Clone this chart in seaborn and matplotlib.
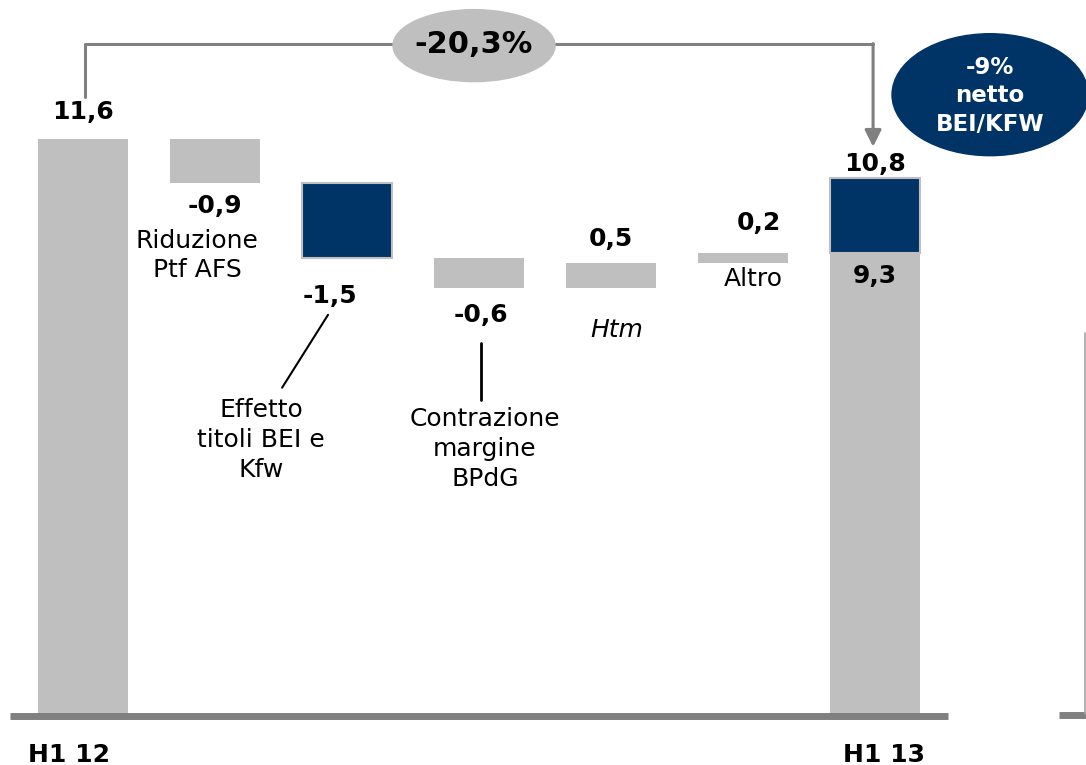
import pandas as pd
import matplotlib.pyplot as plt
import seaborn as sns
from matplotlib.patches import Ellipse

# Data
steps = ["H1 12", "Riduzione Ptf AFS", "Effetto titoli BEI e Kfw",
         "Contrazione margine BPdG", "Htm", "Altro", "H1 13"]
deltas = [11.6, -0.9, -1.5, -0.6, 0.5, 0.2]
end_net = 9.3      # H1 13 netto BEI/KFW
end_bei = 1.5      # quota BEI/KFW in H1 13
highlight = ["Effetto titoli BEI e Kfw"]
value_labels = ["11,6", "-0,9", "-1,5", "-0,6", "0,5", "0,2", "10,8"]

GRAY = "#BFBFBF"
NAVY = "#003366"
DARK = "#808080"

# Build waterfall table
rows = []
running = 0.0
for step, d in zip(steps[:-1], deltas):
    bottom = min(running, running + d)
    rows.append({"step": step, "bottom": bottom, "height": abs(d),
                 "kind": "navy" if step in highlight else "gray"})
    running += d
rows.append({"step": steps[-1], "bottom": 0.0, "height": end_net, "kind": "gray"})
rows.append({"step": steps[-1], "bottom": end_net, "height": end_bei, "kind": "navy"})
df = pd.DataFrame(rows)

sns.set_style("white")
plt.rcParams['font.family'] = ['DejaVu Sans']
plt.rcParams['text.color'] = 'black'

fig = plt.figure(figsize=(10.86, 7.65), dpi=100)
ax = fig.add_axes([0, 0, 1, 1])

gray_df = df[df["kind"] == "gray"].reset_index(drop=True)
navy_df = df[df["kind"] == "navy"].reset_index(drop=True)

sns.barplot(data=gray_df, x="step", y="height", order=steps,
            bottom=gray_df["bottom"].values, color=GRAY, saturation=1,
            width=0.68, errorbar=None, linewidth=0, ax=ax)
sns.barplot(data=navy_df, x="step", y="height", order=steps,
            bottom=navy_df["bottom"].values, color=NAVY, saturation=1,
            width=0.68, errorbar=None, edgecolor=GRAY, linewidth=1.5, ax=ax)

ax.set_xlim(-0.629, 7.598)
ax.set_ylim(-1.03, 14.40)
ax.axis("off")

# baseline
ax.plot([-0.553, 6.553], [-0.05, -0.05], color=DARK, lw=5, solid_capstyle="butt")
# fragment of next panel at right edge
ax.plot([7.39, 7.61], [-0.03, -0.03], color=DARK, lw=5, solid_capstyle="butt")
ax.plot([7.59, 7.59], [0.0, 7.69], color="#A6A6A6", lw=1.2)

bold = dict(fontsize=18, fontweight="bold", ha="center", va="center", color="black")
norm = dict(fontsize=18, ha="center", va="center", color="black")

# value labels
ax.text(0, 12.14, value_labels[0], **bold)
ax.text(1.0, 10.25, value_labels[1], **bold)
ax.text(1.87, 8.43, value_labels[2], **bold)
ax.text(3.015, 8.05, value_labels[3], **bold)
ax.text(4.0, 9.58, value_labels[4], **bold)
ax.text(5.12, 9.9, value_labels[5], **bold)
ax.text(6.0, 11.1, value_labels[6], **bold)
ax.text(6.0, 8.84, "9,3", **bold)

# descriptions
ax.text(0.864, 9.24, "Riduzione\nPtf AFS", linespacing=1.25, **norm)
ax.text(1.35, 5.53, "Effetto\ntitoli BEI e\nKfw", linespacing=1.32, **norm)
ax.text(3.045, 5.35, "Contrazione\nmargine\nBPdG", linespacing=1.32, **norm)
ax.text(4.04, 7.75, "Htm", style="italic", **norm)
ax.text(5.08, 8.78, "Altro", **norm)
ax.plot([1.856, 1.508], [8.05, 6.58], color="black", lw=1.5)
ax.plot([3.015, 3.015], [7.48, 6.33], color="black", lw=2)

# period labels
ax.text(-0.106, -0.83, "H1 12", **bold)
ax.text(6.07, -0.83, "H1 13", **bold)

# connector with arrow
ax.plot([0.015, 0.015, 5.985], [12.45, 13.52, 13.52], color=DARK, lw=2.2)
ax.annotate("", xy=(5.985, 11.44), xytext=(5.985, 13.52),
            arrowprops=dict(arrowstyle="-|>,head_length=0.5,head_width=0.25",
                            color=DARK, lw=2.2, shrinkA=0, shrinkB=0,
                            mutation_scale=20))
ax.add_patch(Ellipse((2.962, 13.48), 1.227, 1.452, color=GRAY, zorder=5))
ax.text(2.962, 13.5, "-20,3%", fontsize=22, fontweight="bold",
        ha="center", va="center", color="black", zorder=6)

ax.add_patch(Ellipse((6.871, 12.49), 1.485, 2.46, color=NAVY, zorder=5))
ax.text(6.871, 12.47, "-9%\nnetto\nBEI/KFW", fontsize=16.5, fontweight="bold",
        color="white", ha="center", va="center", linespacing=1.3, zorder=6)

fig.savefig("out.png", dpi=100)
